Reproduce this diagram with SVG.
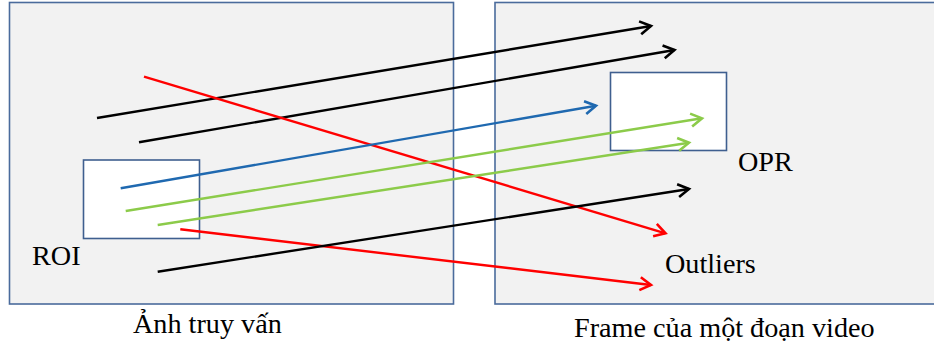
<svg xmlns="http://www.w3.org/2000/svg" width="934" height="349" viewBox="0 0 934 349">
<style>
.frame{fill:#F2F2F2;stroke:#4A6B9C;stroke-width:1.6}
.box{fill:#FFFFFF;stroke:#3F5F8F;stroke-width:1.6}
.lbl{font-family:'Liberation Serif','Times New Roman',serif;font-size:28.2px;fill:#000}
.c{fill:none;stroke-width:2.4}
.k{stroke:#000}
.r{stroke:#FF0000}
.b{stroke:#1F69B0}
.g{stroke:#8CCB4A}
</style>
<defs>
<marker id="ak" markerUnits="userSpaceOnUse" markerWidth="16" markerHeight="16" refX="12" refY="7" orient="auto" overflow="visible"><path d="M1,0.5 L12,7 L1,13.5" fill="none" stroke="#000" stroke-width="2.6"/></marker>
<marker id="ar" markerUnits="userSpaceOnUse" markerWidth="16" markerHeight="16" refX="12" refY="7" orient="auto" overflow="visible"><path d="M1,0.5 L12,7 L1,13.5" fill="none" stroke="#FF0000" stroke-width="2.6"/></marker>
<marker id="ab" markerUnits="userSpaceOnUse" markerWidth="16" markerHeight="16" refX="12" refY="7" orient="auto" overflow="visible"><path d="M1,0.5 L12,7 L1,13.5" fill="none" stroke="#1F69B0" stroke-width="2.6"/></marker>
<marker id="ag" markerUnits="userSpaceOnUse" markerWidth="16" markerHeight="16" refX="12" refY="7" orient="auto" overflow="visible"><path d="M1,0.5 L12,7 L1,13.5" fill="none" stroke="#8CCB4A" stroke-width="2.6"/></marker>
</defs>
<g id="query-image">
<rect class="frame" x="9.5" y="2.5" width="444" height="301.5"/>
<text class="lbl" x="133" y="333">Ảnh truy vấn</text>
</g>
<g id="roi">
<rect class="box" x="83.5" y="160" width="116" height="78.5"/>
<text class="lbl" x="32" y="265">ROI</text>
</g>
<g id="video-frame">
<rect class="frame" x="495" y="2.5" width="440" height="301.5"/>
<text class="lbl" x="574" y="337">Frame của một đoạn video</text>
</g>
<g id="opr">
<rect class="box" x="610.5" y="72.5" width="116" height="78"/>
<text class="lbl" x="738" y="171">OPR</text>
</g>
<g id="outliers">
<text class="lbl" x="665" y="273">Outliers</text>
</g>
<g id="connectors">
<line class="c k" x1="97" y1="118" x2="651" y2="26" marker-end="url(#ak)"/>
<line class="c k" x1="139" y1="142.3" x2="674.5" y2="50" marker-end="url(#ak)"/>
<line class="c r" x1="144" y1="76.7" x2="665.5" y2="233.3" marker-end="url(#ar)"/>
<line class="c b" x1="120.7" y1="188.3" x2="596" y2="105.7" marker-end="url(#ab)"/>
<line class="c g" x1="125.7" y1="211" x2="702" y2="118.3" marker-end="url(#ag)"/>
<line class="c g" x1="157.7" y1="225" x2="689" y2="142.7" marker-end="url(#ag)"/>
<line class="c r" x1="180.3" y1="229.3" x2="651" y2="285" marker-end="url(#ar)"/>
<line class="c k" x1="157.7" y1="271.7" x2="689" y2="189" marker-end="url(#ak)"/>
</g>
</svg>
